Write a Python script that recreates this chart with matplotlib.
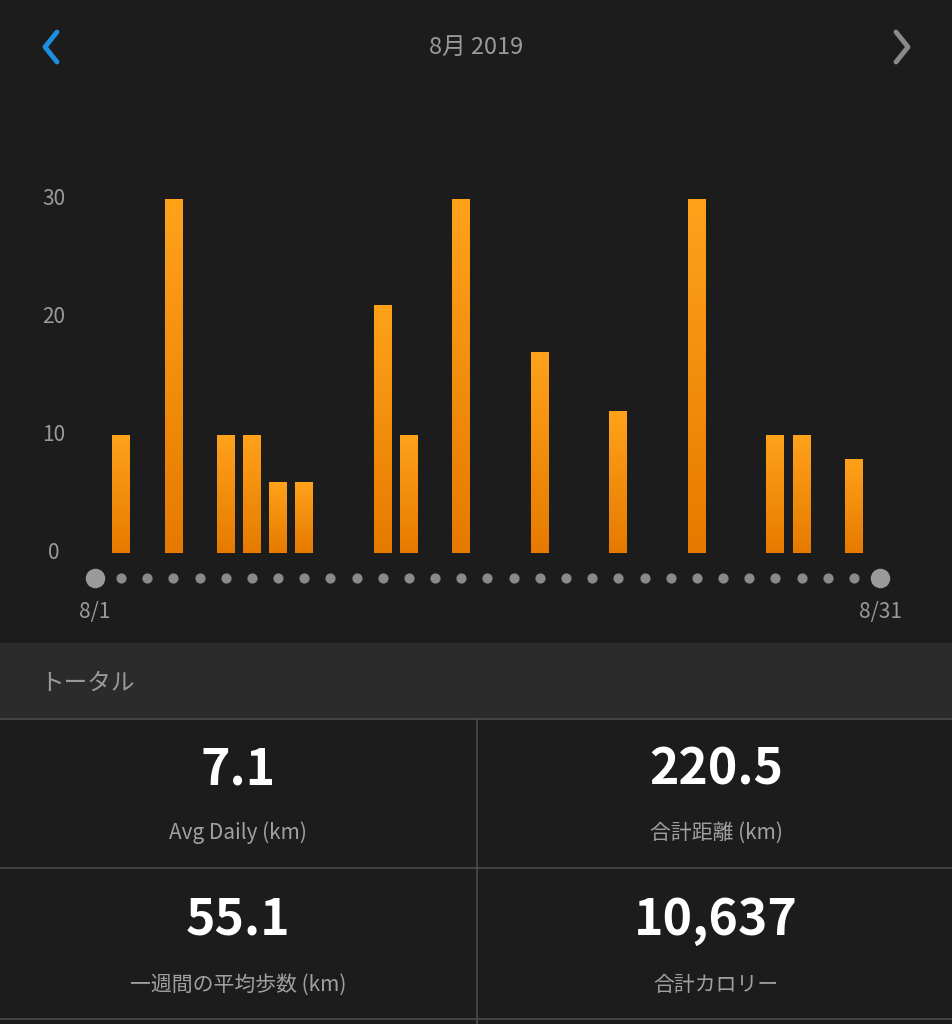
import matplotlib
matplotlib.use("Agg")
import matplotlib.pyplot as plt
import numpy as np
from matplotlib.patches import Rectangle

plt.rcParams['font.family'] = ['Noto Sans CJK JP', 'DejaVu Sans']

days = [2, 4, 6, 7, 8, 9, 12, 13, 15, 18, 21, 24, 27, 28, 30]
values = [10, 30, 10, 10, 6, 6, 21, 10, 30, 17, 12, 30, 10, 10, 8]
yticks = [0, 10, 20, 30]
title = "8月 2019"
stats = [("7.1", "Avg Daily (km)"), ("220.5", "合計距離 (km)"),
         ("55.1", "一週間の平均歩数 (km)"), ("10,637", "合計カロリー")]

W, H = 953, 1024
BG = "#1c1c1c"
fig = plt.figure(figsize=(W/100, H/100), dpi=100, facecolor=BG)

# overlay axes in pixel coords
ov = fig.add_axes([0, 0, 1, 1])
ov.set_xlim(0, W); ov.set_ylim(H, 0); ov.axis('off')
ov.set_facecolor(BG)
ov.text(W/2, 47, title, color="#9a9a9a", fontsize=17, ha='center', va='center')
ov.plot([57, 45, 57], [32, 47, 62], color="#1e8fe0", lw=3.5, solid_capstyle='round')
ov.plot([896, 908, 896], [32, 47, 62], color="#8a8a8a", lw=3.5, solid_capstyle='round')
ov.add_patch(Rectangle((0, 643), W, 76, color="#2b2b2b"))
ov.text(40, 683, "トータル", color="#9a9a9a", fontsize=17, va='center')
for y in [719, 868, 1019]:
    ov.plot([0, W], [y, y], color="#4a4a4a", lw=1.2)
ov.plot([477, 477], [719, 1024], color="#4a4a4a", lw=1.2)
pos = [(238, 770, 833), (716, 770, 833), (238, 920, 985), (716, 920, 985)]
for (v, lab), (x, yv, yl) in zip(stats, pos):
    ov.text(x, yv, v, color="white", fontsize=36, fontweight='bold', ha='center', va='center')
    ov.text(x, yl, lab, color="#a0a0a0", fontsize=15, ha='center', va='center')

# chart axes
top, bot = 150, 640
ax = fig.add_axes([0, 1 - bot/H, 1, (bot - top)/H])
ax.patch.set_alpha(0)
ppd = (880 - 95) / 30
ax.set_xlim(1 - 95/ppd, 31 + (W - 880)/ppd)
ppu = (553 - 199) / 30
ax.set_ylim(-(bot - 553)/ppu, (553 - top)/ppu)
ax.axis('off')

grad = np.linspace(0, 1, 256).reshape(-1, 1)
from matplotlib.colors import LinearSegmentedColormap
cmap = LinearSegmentedColormap.from_list("o", ["#e67a00", "#ffa21a"])
bars = ax.bar(days, values, width=0.68, color="#f59010", zorder=2)
for b in bars:
    x0, w, h = b.get_x(), b.get_width(), b.get_height()
    im = ax.imshow(grad, extent=[x0, x0 + w, 0, h], origin='lower', cmap=cmap,
                   aspect='auto', zorder=3)
    im.set_clip_path(b)
ax.set_xlim(1 - 95/ppd, 31 + (W - 880)/ppd)
ax.set_ylim(-(bot - 553)/ppu, (553 - top)/ppu)

for t in yticks:
    ax.text(1 - (95 - 54)/ppd, t, str(t), color="#9a9a9a", fontsize=15, ha='center', va='center')
d = np.arange(1, 32)
ydot = -25/ppu
ax.scatter(d[1:-1], [ydot]*29, s=40, color="#8a8a8a", zorder=3)
ax.scatter([1, 31], [ydot]*2, s=170, color="#9a9a9a", zorder=3)
ax.text(1, -59/ppu, "8/1", color="#9a9a9a", fontsize=15, ha='center', va='center')
ax.text(31, -59/ppu, "8/31", color="#9a9a9a", fontsize=15, ha='center', va='center')

fig.savefig("out.png", dpi=100, facecolor=BG)
